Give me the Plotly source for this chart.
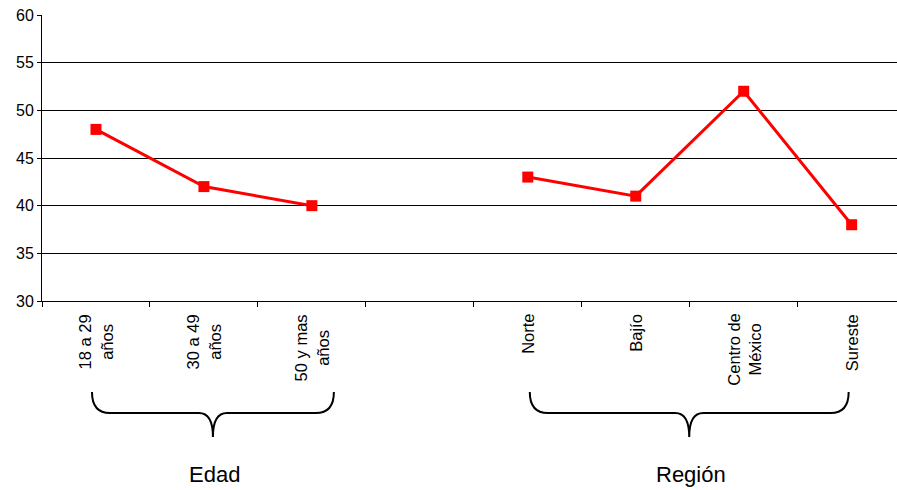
import plotly.graph_objects as go

categories = ["18 a 29<br>años", "30 a 49<br>años", "50 y mas<br>años", " ",
              "Norte", "Bajío", "Centro de<br>México", "Sureste"]
values = [48, 42, 40, None, 43, 41, 52, 38]
y_ticks = [30, 35, 40, 45, 50, 55, 60]
groups = [("Edad", 0, 2), ("Región", 4, 7)]

W, H = 897, 490
L, R, T, B = 42, 0, 15, 189
plot_w = W - L - R
plot_h = H - T - B
x_range = [-0.5, 7.42]
FONT = "Liberation Sans, Arial, sans-serif"

def px_x(px):
    return (px - L) / plot_w

def px_y(py):
    return (H - B - py) / plot_h

def cat_px(i):
    return L + (i - x_range[0]) / (x_range[1] - x_range[0]) * plot_w

fig = go.Figure()
fig.add_trace(go.Scatter(
    x=categories, y=values, mode="lines+markers",
    line=dict(color="#FF0000", width=3),
    marker=dict(symbol="square", size=11, color="#FF0000"),
    connectgaps=False, showlegend=False, hoverinfo="skip",
))

shapes = []
annotations = []

# category labels, rotated, lines centred
for c in categories:
    if c.strip():
        annotations.append(dict(text=c, x=c, xref="x", y=px_y(312), yref="paper",
                                textangle=-90, xanchor="center", yanchor="top",
                                align="center", showarrow=False,
                                font=dict(size=16.5, color="black", family=FONT)))

pads = {"Edad": (-4, 22), "Región": (2, -3)}
for name, i0, i1 in groups:
    x0 = cat_px(i0) + pads[name][0]
    x1 = cat_px(i1) + pads[name][1]
    xc = (x0 + x1) / 2
    ytop, ymid, ybot = 392, 413, 437
    r, rc = 18, 14
    pts = [
        ("M", [(x0, ytop)]),
        ("Q", [(x0, ymid), (x0 + r, ymid)]),
        ("L", [(xc - rc, ymid)]),
        ("Q", [(xc, ymid), (xc, ybot)]),
        ("Q", [(xc, ymid), (xc + rc, ymid)]),
        ("L", [(x1 - r, ymid)]),
        ("Q", [(x1, ymid), (x1, ytop)]),
    ]
    path = " ".join(
        cmd + " " + " ".join(f"{px_x(a):.5f},{px_y(b):.5f}" for a, b in p)
        for cmd, p in pts
    )
    shapes.append(dict(type="path", path=path, xref="paper", yref="paper",
                       line=dict(color="black", width=2)))
    annotations.append(dict(text=name, x=px_x(xc + 2), y=px_y(474), xref="paper",
                            yref="paper", showarrow=False, xanchor="center",
                            yanchor="middle",
                            font=dict(size=22, color="black", family=FONT)))

fig.update_layout(
    width=W, height=H,
    margin=dict(l=L, r=R, t=T, b=B, pad=0, autoexpand=False),
    paper_bgcolor="white", plot_bgcolor="white",
    font=dict(family=FONT, color="black", size=16),
    shapes=shapes, annotations=annotations,
    xaxis=dict(
        type="category", categoryorder="array", categoryarray=categories,
        range=x_range, tickson="boundaries", ticks="outside", ticklen=5,
        tickcolor="black", tickwidth=1, showline=True, linecolor="black",
        linewidth=1, showgrid=False, showticklabels=False, automargin=False,
        fixedrange=True,
    ),
    yaxis=dict(
        range=[30, 60], tickvals=y_ticks, ticks="outside", ticklen=4,
        tickcolor="black", showline=True, linecolor="black", linewidth=1,
        showgrid=True, gridcolor="black", gridwidth=1, zeroline=False,
        automargin=False,
        tickfont=dict(size=16, color="black"), fixedrange=True,
    ),
)

fig.write_html("out.html", config={"displayModeBar": False},
               post_script="document.body.style.margin='0';document.body.style.overflow='hidden';")
